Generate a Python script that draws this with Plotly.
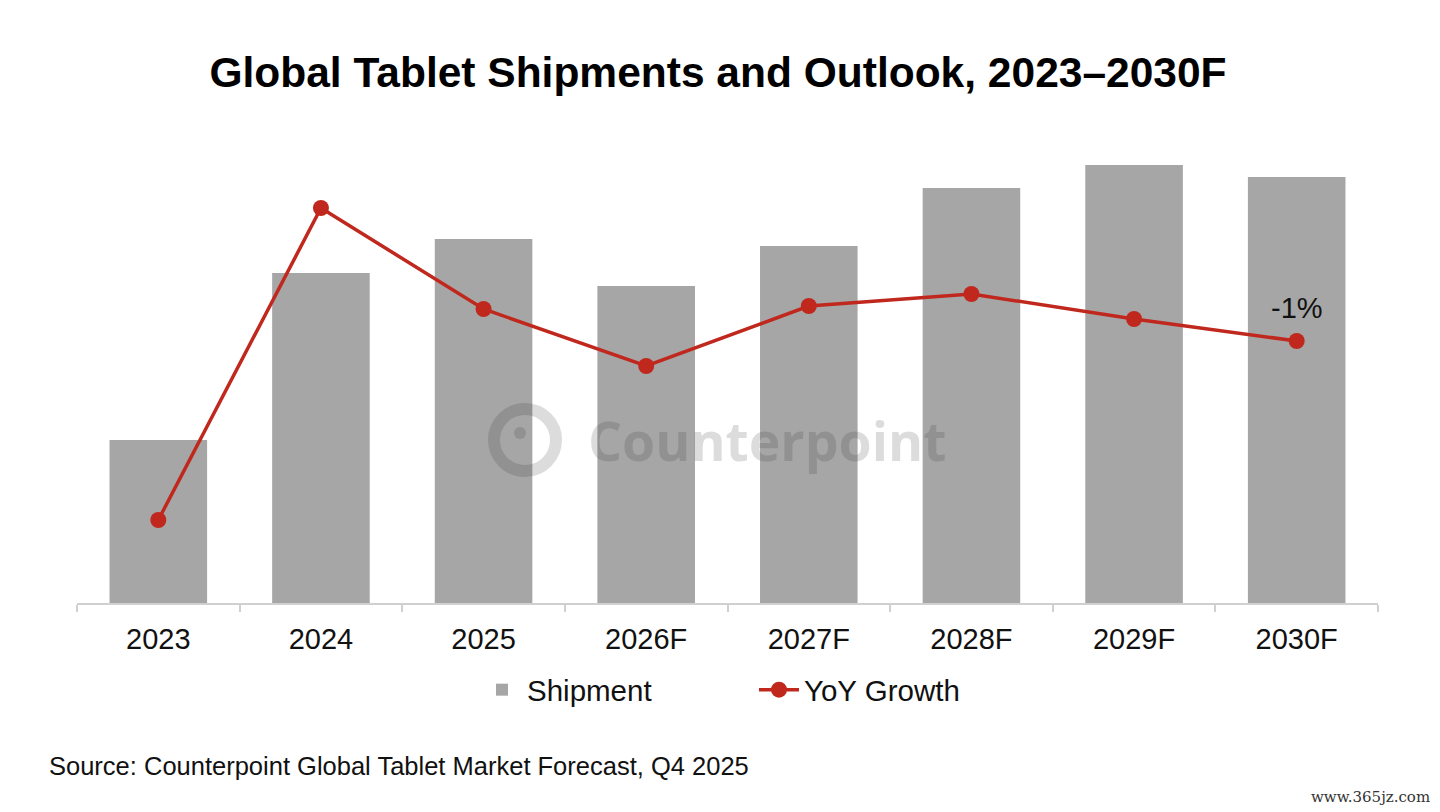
import plotly.graph_objects as go

# Data (bar heights in relative units, YoY in %)
years = ["2023", "2024", "2025", "2026F", "2027F", "2028F", "2029F", "2030F"]
shipment = [16.3, 33.0, 36.4, 31.7, 35.7, 41.5, 43.8, 42.6]
yoy_growth = [-18.9, 12.3, 2.2, -3.5, 2.5, 3.7, 1.2, -1.0]
yoy_labels = ["", "", "", "", "", "", "", "-1%<br> "]

BAR_GREY = "#a6a6a6"
LINE_RED = "#c0281e"
FONT = "Liberation Sans, Arial, sans-serif"
WATERMARK = "rgba(40,40,40,0.16)"

# the page puts the figure 8px in from the top-left corner
OFF = 8
FIG_W, FIG_H = 1440 - OFF, 812 - OFF

# plot area in screen pixels: x 77..1378, y 150..603
L, R, T, B = 77, 1378, 150, 603
W, H = R - L, B - T


def px(x):
    return (x - L) / W


def py(y):
    return (B - y) / H


fig = go.Figure()

fig.add_trace(go.Bar(
    x=years, y=shipment,
    name="Shipment",
    marker=dict(color=BAR_GREY, line=dict(width=0)),
    yaxis="y",
))

fig.add_trace(go.Scatter(
    x=years, y=yoy_growth,
    name="YoY Growth",
    mode="lines+markers",
    line=dict(color=LINE_RED, width=3.5),
    marker=dict(color=LINE_RED, size=16),
    yaxis="y2",
    cliponaxis=False,
))

# data label on the last point only
fig.add_annotation(
    x=years[-1], y=yoy_growth[-1], xref="x", yref="y2",
    text=yoy_labels[-1].split("<br>")[0], showarrow=False,
    yanchor="middle", yshift=33,
    font=dict(size=29, color="#111111", family=FONT),
)

# Counterpoint watermark: ring logo + text
fig.add_shape(
    type="circle", xref="paper", yref="paper",
    x0=px(494), x1=px(556), y0=py(471), y1=py(409),
    line=dict(color=WATERMARK, width=12),
    fillcolor="rgba(0,0,0,0)", layer="above",
)
fig.add_shape(
    type="circle", xref="paper", yref="paper",
    x0=px(514), x1=px(526), y0=py(439), y1=py(427),
    line=dict(width=0), fillcolor=WATERMARK, layer="above",
)
fig.add_annotation(
    x=px(586), y=py(440), xref="paper", yref="paper",
    xanchor="left", yanchor="middle", showarrow=False,
    text="<b>Counterpoint</b>",
    font=dict(size=53.5, color=WATERMARK, family="Open Sans, " + FONT),
)

fig.add_annotation(
    x=px(47), y=py(766), xref="paper", yref="paper",
    xanchor="left", yanchor="middle", showarrow=False,
    text="Source: Counterpoint Global Tablet Market Forecast, Q4 2025",
    font=dict(size=25.5, color="#111111", family=FONT),
)
fig.add_annotation(
    x=px(1432), y=py(797), xref="paper", yref="paper",
    xanchor="right", yanchor="middle", showarrow=False,
    text="www.365jz.com",
    font=dict(size=15, color="#333333", family="DejaVu Serif, serif"),
)

fig.update_layout(
    title=dict(
        text="<b>Global Tablet Shipments and Outlook, 2023–2030F</b>",
        x=(718 - OFF) / FIG_W, xanchor="center",
        y=1 - (72 - OFF) / FIG_H, yanchor="middle",
        font=dict(size=42.5, color="#000000", family=FONT),
    ),
    width=FIG_W, height=FIG_H,
    margin=dict(l=L - OFF, r=FIG_W - (R - OFF), t=T - OFF, b=FIG_H - (B - OFF)),
    paper_bgcolor="white", plot_bgcolor="white",
    bargap=0.4,
    font=dict(family=FONT, color="#111111"),
    xaxis=dict(
        showline=True, linecolor="#d0d0d0", linewidth=2,
        ticks="outside", tickson="boundaries", ticklen=7, tickcolor="#d0d0d0",
        tickwidth=2, showgrid=False,
        tickfont=dict(size=29, color="#111111"),
        ticklabelstandoff=9,
    ),
    yaxis=dict(range=[0, 45.3], visible=False, showgrid=False),
    yaxis2=dict(range=[-27.2, 18.1], overlaying="y", visible=False, showgrid=False),
    legend=dict(
        orientation="h", x=px(477), xanchor="left", y=py(690), yanchor="middle",
        font=dict(size=29.5, color="#111111"),
        itemwidth=40, entrywidth=222,
    ),
    showlegend=True,
)

fig.write_html("out.html")
